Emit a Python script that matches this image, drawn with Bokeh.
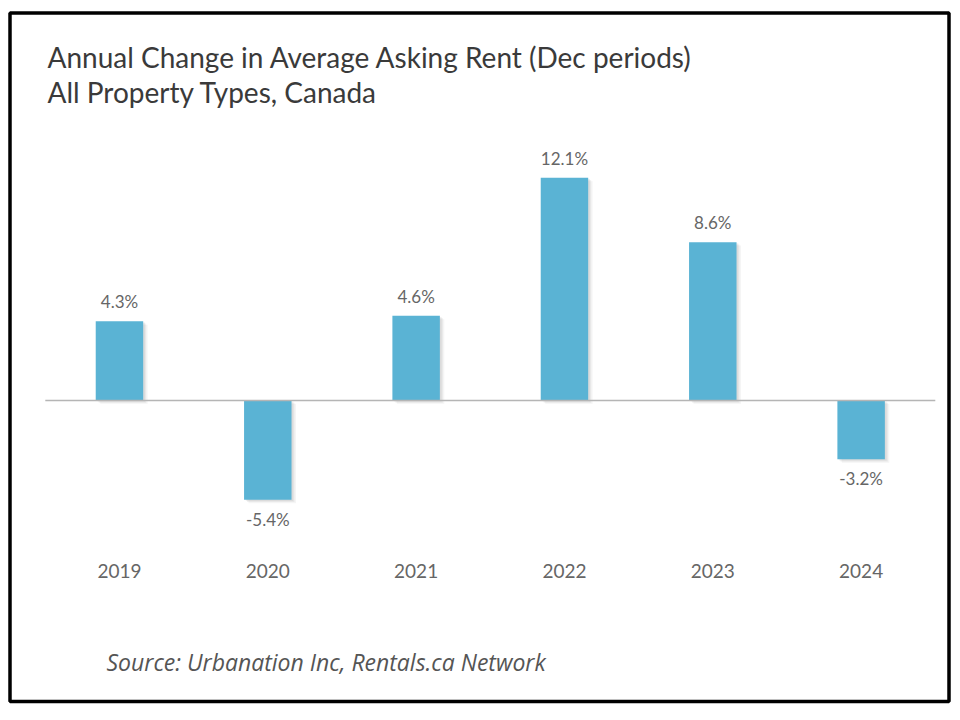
from bokeh.plotting import figure
from bokeh.models import ColumnDataSource, Label, BoxAnnotation, Range1d, FixedTicker
from bokeh.core.properties import value
from bokeh.embed import file_html
from bokeh.resources import INLINE

# ---- data ----
years = ["2019", "2020", "2021", "2022", "2023", "2024"]
changes = [4.3, -5.4, 4.6, 12.1, 8.6, -3.2]
labels = ["4.3%", "-5.4%", "4.6%", "12.1%", "8.6%", "-3.2%"]

title1 = "Annual Change in Average Asking Rent (Dec periods)"
title2 = "All Property Types, Canada"
source_note = "Source: Urbanation Inc, Rentals.ca Network"

FONT = "Lato"
BAR = "#5ab3d4"

W, H = 952, 712
idx = list(range(len(years)))

def sy(py):  # page y (top-down) -> screen units (bottom-up)
    return H - py

src = ColumnDataSource(dict(
    x=idx,
    val=changes,
    lab=labels,
    yoff=[-9 if v >= 0 else 9 for v in changes],
    base=["bottom" if v >= 0 else "top" for v in changes],
))

p = figure(x_range=Range1d(-0.802, 5.616), y_range=Range1d(-16.96, 21.74),
           width=W, height=H, output_backend="svg", toolbar_location=None,
           min_border=0)
p.outline_line_color = None
p.xgrid.visible = False
p.ygrid.visible = False
p.yaxis.visible = False
p.background_fill_color = "white"
p.border_fill_color = "white"

# soft drop shadows: offset translucent copies of the bars
for dx, dy, a in [(0.012, -0.06, 0.09), (0.020, -0.12, 0.08), (0.030, -0.18, 0.06)]:
    s = ColumnDataSource(dict(x=[i + dx for i in idx],
                              top=[v + dy if v >= 0 else dy for v in changes],
                              bot=[dy if v >= 0 else v + dy for v in changes]))
    p.vbar(x="x", top="top", bottom="bot", width=0.32, source=s,
           fill_color="#555555", fill_alpha=a, line_color=None)

p.vbar(x="x", top="val", bottom=0, width=0.32, source=src,
       fill_color=BAR, line_color=None)

# zero line across the category bands
p.segment(x0=[idx[0] - 0.5], x1=[idx[-1] + 0.5], y0=[0], y1=[0],
          line_color="#b5b5b5", line_width=1.5)

p.text(x="x", y="val", text="lab", source=src, y_offset="yoff", text_baseline="base",
       text_align="center", text_font=value(FONT), text_font_size="17px", text_color="#666666")

ax = p.xaxis[0]
ax.fixed_location = 0
ax.ticker = FixedTicker(ticks=idx)
ax.major_label_overrides = {i: y for i, y in zip(idx, years)}
ax.axis_line_color = None
ax.major_tick_line_color = None
ax.minor_tick_line_color = None
ax.major_label_standoff = 158
ax.major_label_text_font = FONT
ax.major_label_text_font_size = "19px"
ax.major_label_text_color = "#666666"

# titles
p.add_layout(Label(x=47, y=sy(56), x_units="screen", y_units="screen", text=title1,
                   text_baseline="alphabetic", text_font=FONT, text_font_size="28px",
                   text_color="#3a3a3a"))
p.add_layout(Label(x=47, y=sy(91), x_units="screen", y_units="screen", text=title2,
                   text_baseline="alphabetic", text_font=FONT, text_font_size="28px",
                   text_color="#3a3a3a"))
p.add_layout(Label(x=106, y=sy(661), x_units="screen", y_units="screen", text=source_note,
                   text_baseline="alphabetic", text_font="Open Sans", text_font_style="italic",
                   text_font_size="23px", text_color="#555555"))

# outer border
p.add_layout(BoxAnnotation(left=9.5, right=948.5, top=sy(12.5), bottom=sy(701),
                           left_units="screen", right_units="screen", top_units="screen",
                           bottom_units="screen", fill_alpha=0, line_color="#000000",
                           line_alpha=1.0, line_width=3.5, editable=False))

open("out.html", "w").write(file_html(p, INLINE))
